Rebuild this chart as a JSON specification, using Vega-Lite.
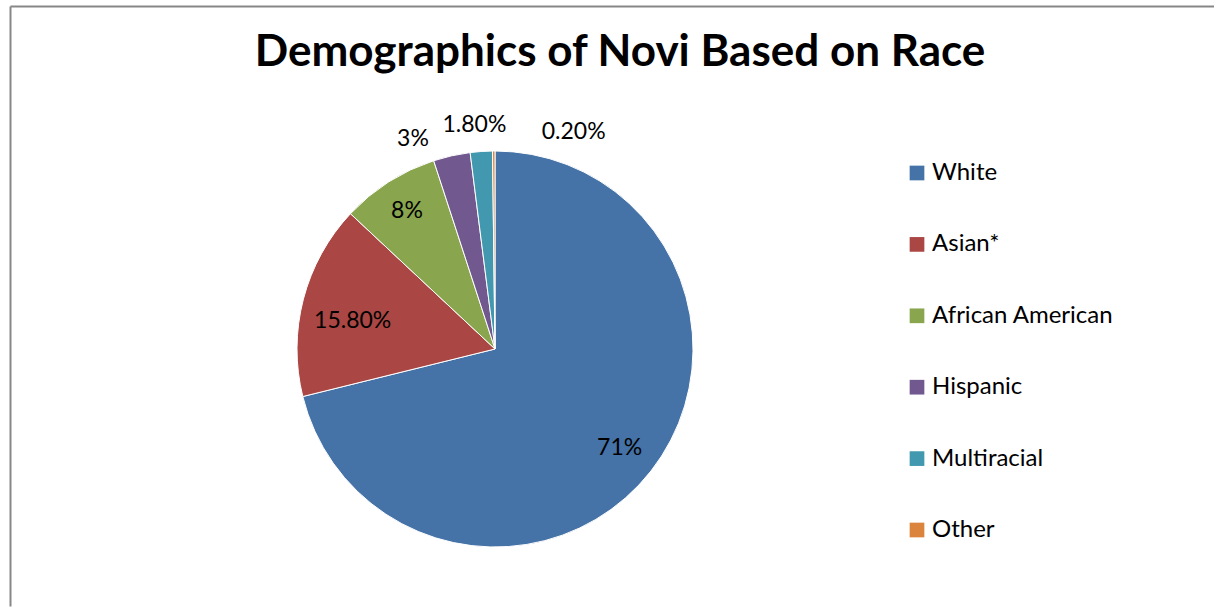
{
  "$schema": "https://vega.github.io/schema/vega-lite/v6.json",
  "width": 970,
  "height": 514,
  "padding": {"left": 10, "top": 6, "right": 0, "bottom": 0},
  "background": "white",
  "title": {
    "text": "Demographics of Novi Based on Race",
    "anchor": "middle",
    "frame": "group",
    "offset": -104,
    "dx": 125,
    "baseline": "alphabetic",
    "fontSize": 44,
    "font": "Lato",
    "fontWeight": "bold",
    "color": "#000000"
  },
  "config": {
    "view": {"stroke": null},
    "text": {"font": "Lato", "fontSize": 23, "color": "#000000", "align": "center", "baseline": "middle"}
  },
  "data": {
    "values": [
      {"race": "White", "pct": 71, "label": "71%", "rank": 1},
      {"race": "Asian*", "pct": 15.8, "label": "15.80%", "rank": 2},
      {"race": "African American", "pct": 8, "label": "8%", "rank": 3},
      {"race": "Hispanic", "pct": 3, "label": "3%", "rank": 4},
      {"race": "Multiracial", "pct": 1.8, "label": "1.80%", "rank": 5},
      {"race": "Other", "pct": 0.2, "label": "0.20%", "rank": 6}
    ]
  },
  "encoding": {
    "theta": {"field": "pct", "type": "quantitative", "stack": true},
    "order": {"field": "rank", "type": "quantitative"}
  },
  "layer": [
    {
      "mark": {"type": "point", "opacity": 0, "size": 0},
      "encoding": {
        "theta": null,
        "order": null,
        "x": {"datum": 0, "type": "quantitative", "scale": {"domain": [0, 1], "range": [0, 1204]},
              "axis": {"orient": "top", "offset": 86, "domain": true, "domainColor": "#878787", "domainWidth": 2, "ticks": false, "labels": false, "grid": false, "title": null}},
        "y": {"datum": 0, "type": "quantitative", "scale": {"domain": [0, 1], "range": [514, -86]},
              "axis": {"orient": "left", "domain": true, "domainColor": "#878787", "domainWidth": 2, "ticks": false, "labels": false, "grid": false, "title": null}}
      }
    },
    {
      "mark": {"type": "arc", "outerRadius": 198, "stroke": "#ffffff", "strokeWidth": 1},
      "encoding": {
        "color": {
          "field": "race", "type": "nominal",
          "scale": {
            "domain": ["White", "Asian*", "African American", "Hispanic", "Multiracial", "Other"],
            "range": ["#4572A7", "#AA4643", "#89A54E", "#71588F", "#4198AF", "#DB843D"]
          },
          "legend": {
            "orient": "none", "legendX": 895, "legendY": 69, "title": null,
            "symbolType": "square", "symbolSize": 216, "symbolStrokeWidth": 0,
            "labelFontSize": 24, "labelFont": "Lato", "labelColor": "#000000", "labelLimit": 400,
            "labelOffset": 3, "rowPadding": 47.4, "padding": 0
          }
        }
      }
    },
    {
      "mark": {"type": "text", "radius": 157, "dx": 1, "dy": 2},
      "encoding": {"text": {"condition": {"test": "datum.race === 'White'", "field": "label"}, "value": ""}}
    },
    {
      "mark": {"type": "text", "radius": 145, "dx": -2, "dy": 9},
      "encoding": {"text": {"condition": {"test": "datum.race === 'Asian*'", "field": "label"}, "value": ""}}
    },
    {
      "mark": {"type": "text", "radius": 164},
      "encoding": {"text": {"condition": {"test": "datum.race === 'African American'", "field": "label"}, "value": ""}}
    },
    {
      "mark": {"type": "text", "radius": 215, "dx": -35},
      "encoding": {"text": {"condition": {"test": "datum.race === 'Hispanic'", "field": "label"}, "value": ""}}
    },
    {
      "mark": {"type": "text", "radius": 225, "dx": -5},
      "encoding": {"text": {"condition": {"test": "datum.race === 'Multiracial'", "field": "label"}, "value": ""}}
    },
    {
      "mark": {"type": "text", "radius": 217, "dx": 80},
      "encoding": {"text": {"condition": {"test": "datum.race === 'Other'", "field": "label"}, "value": ""}}
    }
  ]
}
